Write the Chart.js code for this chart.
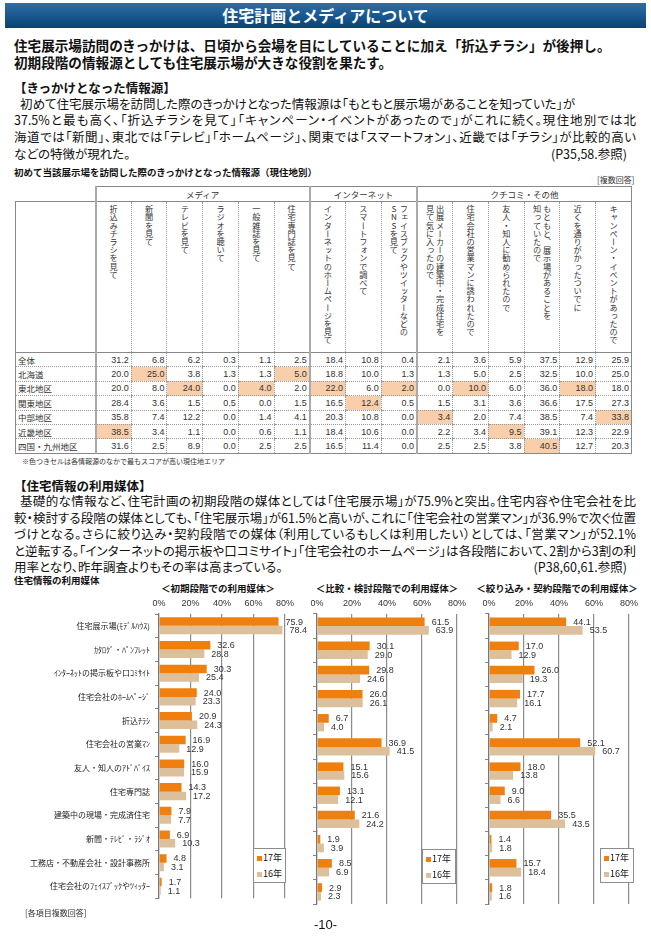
<!DOCTYPE html>
<html lang="ja">
<head>
<meta charset="utf-8">
<script src="https://cdn.jsdelivr.net/npm/chart.js@4.4.1/dist/chart.umd.min.js"></script>
<style>
body { margin: 0; background: #fff; font-family: "Noto Sans CJK JP", sans-serif; color: #111; }
#page { position: relative; width: 651px; height: 937px; overflow: hidden; }
.abs { position: absolute; white-space: nowrap; }
.bar-title { left: 5px; top: 3px; width: 641px; height: 25px; line-height: 25px; text-align: center;
  color: #fff; font-weight: bold; font-size: 16px;
  background: linear-gradient(to bottom, #2e6ea4 0%, #17578e 55%, #0f416f 100%); }
.lead { left: 14px; font-size: 13.6px; font-weight: bold; line-height: 17px; }
.head { left: 14px; font-size: 12.5px; font-weight: bold; line-height: 16px; }
.ln { left: 14px; width: 622px; font-size: 12.5px; line-height: 16px; font-feature-settings: "palt"; }
.just { text-align: justify; text-align-last: justify; }
.ln .ref { position: absolute; right: 9px; top: 0; }
.small-b { font-size: 9.5px; font-weight: bold; line-height: 12px; }
.tiny { font-size: 8px; line-height: 10px; color: #333; }

#tbl { position: absolute; left: 15px; top: 186px; width: 617px; border-collapse: collapse; table-layout: fixed; color: #333; }
#tbl td { padding: 0; }
#tbl .grp td { height: 14px; font-size: 8.5px; text-align: center; border-top: 1px solid #888; border-left: 2px solid #aaa; border-right: 1px solid #888; }
#tbl .grp td.blank { border: none; }
#tbl .hdr td { height: 146px; vertical-align: top; text-align: center; border-top: 1px solid #888; border-bottom: 1px solid #888; border-left: 1px dotted #999; }
#tbl .hdr td.lab { border-left: 1px solid #888; }
#tbl td.gs { border-left: 2px solid #aaa !important; }
#tbl td.last { border-right: 1px solid #888; }
.vt { display: inline-block; writing-mode: vertical-rl; text-orientation: upright; font-size: 8.2px; line-height: 10px;
  height: 142px; padding-top: 3px; white-space: pre; text-align: start; }
#tbl .row td { height: 13.4px; font-size: 8.5px; border-bottom: 1px dotted #999; border-left: 1px dotted #999; }
#tbl .row td.lab { text-align: left; padding-left: 2px; border-left: 1px solid #888; font-size: 8.5px; }
#tbl .row td.val { text-align: right; padding-right: 2px; font-family: "Liberation Sans", sans-serif; font-size: 9px; }
#tbl .row td.top { background: #f9cfab; }
#tbl tr.end td { border-bottom: 1px solid #888; }

canvas { position: absolute; }
.ctitle { width: 200px; text-align: center; font-size: 9.5px; font-weight: bold; line-height: 12px; }
.lgd { background: #fff; border: 1.5px solid #8c8c8c; font-size: 9px; line-height: 16px; padding-top: 1px; box-sizing: border-box; }
.lgd span { display: inline-block; width: 5px; height: 5px; margin: 0 1px 1px 3px; vertical-align: middle; }
</style>
</head>
<body>
<div id="page">
  <div class="abs bar-title">住宅計画とメディアについて</div>

  <div class="abs lead" style="top:37px;">住宅展示場訪問のきっかけは、日頃から会場を目にしていることに加え「折込チラシ」が後押し。</div>
  <div class="abs lead" style="top:54px;">初期段階の情報源としても住宅展示場が大きな役割を果たす。</div>

  <div class="abs head" style="top:80px;">【きっかけとなった情報源】</div>
  <div class="abs ln" style="top:96px; padding-left:6px; width:auto;">初めて住宅展示場を訪問した際のきっかけとなった情報源は「もともと展示場があることを知っていた」が</div>
  <div class="abs ln just" style="top:112px;">37.5%と最も高く、「折込チラシを見て」「キャンペーン・イベントがあったので」がこれに続く。現住地別では北</div>
  <div class="abs ln just" style="top:129px;">海道では「新聞」、東北では「テレビ」「ホームページ」、関東では「スマートフォン」、近畿では「チラシ」が比較的高い</div>
  <div class="abs ln" style="top:146px;">などの特徴が現れた。<span class="ref">(P35,58.参照)</span></div>

  <div class="abs small-b" style="left:14px; top:166px;">初めて当該展示場を訪問した際のきっかけとなった情報源（現住地別）</div>
  <div class="abs tiny" style="left:597px; top:175px;">[複数回答]</div>

  <table id="tbl"></table>

  <div class="abs" style="left:22px; top:456px; font-size:7px; line-height:10px; color:#333;">※色つきセルは各情報源のなかで最もスコアが高い現住地エリア</div>

  <div class="abs head" style="top:478px;">【住宅情報の利用媒体】</div>
  <div class="abs ln just" style="top:493px; padding-left:6px; width:616px;">基礎的な情報など、住宅計画の初期段階の媒体としては「住宅展示場」が75.9%と突出。住宅内容や住宅会社を比</div>
  <div class="abs ln just" style="top:510px;">較・検討する段階の媒体としても、「住宅展示場」が61.5%と高いが、これに「住宅会社の営業マン」が36.9%で次ぐ位置</div>
  <div class="abs ln just" style="top:526px;">づけとなる。さらに絞り込み・契約段階での媒体（利用しているもしくは利用したい）としては、「営業マン」が52.1%</div>
  <div class="abs ln just" style="top:543px;">と逆転する。「インターネットの掲示板や口コミサイト」「住宅会社のホームページ」は各段階において、2割から3割の利</div>
  <div class="abs ln" style="top:559px;">用率となり、昨年調査よりもその率は高まっている。<span class="ref">(P38,60,61.参照)</span></div>

  <div class="abs small-b" style="left:14px; top:574px;">住宅情報の利用媒体</div>
  <div class="abs ctitle" style="left:118px; top:582px;">＜初期段階での利用媒体＞</div>
  <div class="abs ctitle" style="left:287px; top:582px;">＜比較・検討段階での利用媒体＞</div>
  <div class="abs ctitle" style="left:457px; top:582px;">＜絞り込み・契約段階での利用媒体＞</div>

  <canvas id="c1" width="315" height="314" style="left:0; top:594px;"></canvas>
  <canvas id="c2" width="175" height="314" style="left:300px; top:594px;"></canvas>
  <canvas id="c3" width="175" height="314" style="left:472px; top:594px;"></canvas>

  <div class="abs lgd" style="left:253px; top:848px; width:33px; height:35px;"><span style="background:#ef800f"></span>17年<br><span style="background:#dcc09c"></span>16年</div>
  <div class="abs lgd" style="left:422px; top:849px; width:34px; height:35px;"><span style="background:#ef800f"></span>17年<br><span style="background:#dcc09c"></span>16年</div>
  <div class="abs lgd" style="left:600px; top:848px; width:34px; height:35px;"><span style="background:#ef800f"></span>17年<br><span style="background:#dcc09c"></span>16年</div>

  <div class="abs tiny" style="left:25px; top:908px;">[各項目複数回答]</div>
  <div class="abs" style="left:0; width:651px; text-align:center; top:917px; font-size:13px; line-height:16px; font-family:'Liberation Sans', sans-serif;">-10-</div>
</div>

<script>
// 現住地別の表
var regions = ['全体', '北海道', '東北地区', '関東地区', '中部地区', '近畿地区', '四国・九州地区'];
var groups = [['メディア', 6], ['インターネット', 3], ['クチコミ・その他', 6]];
var sources = ['折込みチラシを見て', '新聞を見て', 'テレビを見て', 'ラジオを聴いて', '一般雑誌を見て', '住宅専門誌を見て',
    'インターネットのホームページを見て', 'スマートフォンで調べて', 'フェイスブックやツイッターなどの\nSNSを見て',
    '出展メーカーの建築中・完成住宅を\n見て気に入ったので', '住宅会社の営業マンに誘われたので', '友人・知人に勧められたので',
    'もともと、展示場があることを\n知っていたので', '近くを通りがかったついでに', 'キャンペーン・イベントがあったので'];
var regionScores = [
    [31.2, 6.8, 6.2, 0.3, 1.1, 2.5, 18.4, 10.8, 0.4, 2.1, 3.6, 5.9, 37.5, 12.9, 25.9],
    [20.0, 25.0, 3.8, 1.3, 1.3, 5.0, 18.8, 10.0, 1.3, 1.3, 5.0, 2.5, 32.5, 10.0, 25.0],
    [20.0, 8.0, 24.0, 0.0, 4.0, 2.0, 22.0, 6.0, 2.0, 0.0, 10.0, 6.0, 36.0, 18.0, 18.0],
    [28.4, 3.6, 1.5, 0.5, 0.0, 1.5, 16.5, 12.4, 0.5, 1.5, 3.1, 3.6, 36.6, 17.5, 27.3],
    [35.8, 7.4, 12.2, 0.0, 1.4, 4.1, 20.3, 10.8, 0.0, 3.4, 2.0, 7.4, 38.5, 7.4, 33.8],
    [38.5, 3.4, 1.1, 0.0, 0.6, 1.1, 18.4, 10.6, 0.0, 2.2, 3.4, 9.5, 39.1, 12.3, 22.9],
    [31.6, 2.5, 8.9, 0.0, 2.5, 2.5, 16.5, 11.4, 0.0, 2.5, 2.5, 3.8, 40.5, 12.7, 20.3]
];
// 色つきセル [行, 列]
var topCells = [[1, 1], [1, 5], [2, 2], [2, 4], [2, 6], [2, 8], [2, 10], [2, 13], [3, 7], [4, 9], [4, 14], [5, 0], [5, 11], [6, 12]];

// 住宅情報の利用媒体
var mediaLabels = ['住宅展示場(ﾓﾃﾞﾙﾊｳｽ)', 'ｶﾀﾛｸﾞ・ﾊﾟﾝﾌﾚｯﾄ', 'ｲﾝﾀｰﾈｯﾄの掲示板や口ｺﾐｻｲﾄ', '住宅会社のﾎｰﾑﾍﾟｰｼﾞ', '折込ﾁﾗｼ',
    '住宅会社の営業ﾏﾝ', '友人・知人のｱﾄﾞﾊﾞｲｽ', '住宅専門誌', '建築中の現場・完成済住宅', '新聞・ﾃﾚﾋﾞ・ﾗｼﾞｵ',
    '工務店・不動産会社・設計事務所', '住宅会社のﾌｪｲｽﾌﾞｯｸやﾂｨｯﾀｰ'];
var seriesNames = ['17年', '16年'];
var early17 = [75.9, 32.6, 30.3, 24.0, 20.9, 16.9, 16.0, 14.3, 7.9, 6.9, 4.8, 1.7];
var early16 = [78.4, 28.8, 25.4, 23.3, 24.3, 12.9, 15.9, 17.2, 7.7, 10.3, 3.1, 1.1];
var compare17 = [61.5, 30.1, 29.8, 26.0, 6.7, 36.9, 15.1, 13.1, 21.6, 1.9, 8.5, 2.9];
var compare16 = [63.9, 29.0, 24.6, 26.1, 4.0, 41.5, 15.6, 12.1, 24.2, 3.9, 6.9, 2.3];
var decide17 = [44.1, 17.0, 26.0, 17.7, 4.7, 52.1, 18.0, 9.0, 35.5, 1.4, 15.7, 1.8];
var decide16 = [53.5, 12.9, 19.3, 16.1, 2.1, 60.7, 13.8, 6.6, 43.5, 1.8, 18.4, 1.6];
var axisMax = 80;
var axisStep = 20;

// build table
var groupStart = [0, 6, 9];
var html = '<colgroup><col style="width:80px">';
for (var c = 0; c < sources.length; c++) html += '<col>';
html += '</colgroup><tr class="grp"><td class="blank"></td>';
groups.forEach(function (g, i) {
    html += '<td colspan="' + g[1] + '"' + (i == groups.length - 1 ? ' class="last"' : '') + '>' + g[0] + '</td>';
});
html += '</tr><tr class="hdr"><td class="lab"></td>';
sources.forEach(function (s, i) {
    var cls = [];
    if (groupStart.indexOf(i) >= 0) cls.push('gs');
    if (i == sources.length - 1) cls.push('last');
    html += '<td class="' + cls.join(' ') + '"><div class="vt">' + s + '</div></td>';
});
html += '</tr>';
regionScores.forEach(function (vals, r) {
    html += '<tr class="row' + (r == regionScores.length - 1 ? ' end' : '') + '"><td class="lab">' + regions[r] + '</td>';
    vals.forEach(function (v, i) {
        var cls = ['val'];
        if (groupStart.indexOf(i) >= 0) cls.push('gs');
        if (i == vals.length - 1) cls.push('last');
        topCells.forEach(function (t) { if (t[0] == r && t[1] == i) cls.push('top'); });
        html += '<td class="' + cls.join(' ') + '">' + v.toFixed(1) + '</td>';
    });
    html += '</tr>';
});
document.getElementById('tbl').innerHTML = html;

// numbers at the end of bars
var valueLabels = {
    id: 'valueLabels',
    afterDatasetsDraw: function (chart) {
        var ctx = chart.ctx;
        ctx.save();
        ctx.font = '9px "Liberation Sans", sans-serif';
        ctx.fillStyle = '#333';
        ctx.textBaseline = 'middle';
        ctx.textAlign = 'left';
        chart.data.datasets.forEach(function (ds, i) {
            chart.getDatasetMeta(i).data.forEach(function (bar, j) {
                ctx.fillText(ds.data[j].toFixed(1), bar.x + 7, bar.y + 0.5);
            });
        });
        ctx.restore();
    }
};

function makeChart(id, data17, data16, showLabels, yWidth, padRight) {
    return new Chart(document.getElementById(id), {
        type: 'bar',
        data: {
            labels: mediaLabels,
            datasets: [{
                label: seriesNames[0],
                data: data17,
                backgroundColor: '#ef800f',
                categoryPercentage: 0.72,
                barPercentage: 1
            }, {
                label: seriesNames[1],
                data: data16,
                backgroundColor: '#dcc09c',
                categoryPercentage: 0.72,
                barPercentage: 1
            }]
        },
        options: {
            indexAxis: 'y',
            responsive: false,
            animation: false,
            layout: { padding: { left: 0, right: padRight, top: 0, bottom: 4 } },
            plugins: {
                legend: { display: false },
                tooltip: { enabled: false }
            },
            scales: {
                x: {
                    position: 'top',
                    min: 0,
                    max: axisMax,
                    ticks: {
                        stepSize: axisStep,
                        callback: function (v) { return v + '%'; },
                        font: { size: 9, family: '"Liberation Sans", sans-serif' },
                        color: '#333',
                        padding: 5
                    },
                    grid: { color: '#8c8c8c', lineWidth: 1.2, drawTicks: false },
                    border: { display: false },
                    afterFit: function (s) { s.height = 20; }
                },
                y: {
                    ticks: {
                        display: showLabels,
                        autoSkip: false,
                        font: { size: 8, family: '"Noto Sans CJK JP", sans-serif' },
                        color: '#222',
                        padding: 5
                    },
                    grid: { drawOnChartArea: false, drawTicks: true, tickLength: 4, color: '#888' },
                    border: { color: '#777', width: 1.2 },
                    afterFit: function (s) { s.width = yWidth; }
                }
            }
        },
        plugins: [valueLabels]
    });
}

var chart1 = makeChart('c1', early17, early16, true, 159, 30);
var chart2 = makeChart('c2', compare17, compare16, false, 17, 18);
var chart3 = makeChart('c3', decide17, decide16, false, 17, 18);
</script>
</body>
</html>
